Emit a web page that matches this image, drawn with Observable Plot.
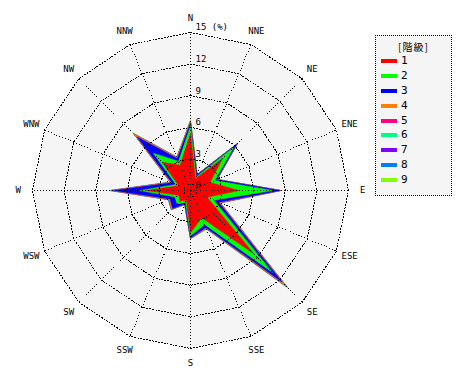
<!DOCTYPE html>
<html>
<head>
<meta charset="utf-8">
<script src="https://cdn.jsdelivr.net/npm/d3@7"></script>
<script src="https://cdn.jsdelivr.net/npm/@observablehq/plot@0.6"></script>
<style>
  body { margin: 0; background: #ffffff; }
  #wrap { position: relative; width: 470px; height: 380px; font-family: "DejaVu Sans Mono", monospace; }
  #legend { position: absolute; left: 375px; top: 35px; width: 75px; height: 159px;
            border: 1px dotted #000; background: #f5f5f5; font-size: 10px; }
  #legend .ttl { text-align: center; margin-top: 3px; height: 15px; font-family: "Noto Sans CJK JP", sans-serif; font-size: 10px; letter-spacing: 1px; }
  #legend .row { position: relative; height: 14.9px; }
  #legend .sw { position: absolute; left: 5px; top: 5px; width: 16px; height: 4px; }
  #legend .lb { position: absolute; left: 25px; top: 0px; font-size: 11px; line-height: 14px; }
</style>
</head>
<body>
<div id="wrap"></div>
<script>
const dirs = ["N","NNE","NE","ENE","E","ESE","SE","SSE","S","SSW","SW","WSW","W","WNW","NW","NNW"];
// frequency (%) per class, per direction
const c1 = [5.4,1.2,4.3,2.0,4.6,1.7,8.5,2.8,4.0,1.0,1.4,1.2,4.2,1.2,3.8,2.6];
const c2 = [0.7,0.2,1.5,0.5,3.2,0.7,2.5,0.7,0.3,0.2,0.4,0.4,0.6,0.3,1.2,0.4];
const c3 = [0.3,0.2,0.4,0.2,0.7,0.5,1.3,0.3,0.2,0.2,0.6,0.5,2.5,0.4,2.2,0.3];
const c4 = [0.1,0.03,0.05,0.03,0.05,0.1,0.5,0.05,0.03,0.03,0.1,0.1,0.2,0.1,0.3,0.1];
const c5 = [0.02,0,0.02,0,0.01,0.02,0.05,0.02,0.01,0,0.02,0.02,0.05,0.02,0.05,0.01];
const c6 = [0.02,0,0.02,0,0.01,0.02,0.05,0.02,0.01,0,0.02,0.02,0.05,0.02,0.05,0.01];
const c7 = [0.02,0,0.01,0,0.01,0.02,0.05,0.02,0.01,0,0.02,0.02,0.03,0.02,0.03,0.01];
const c8 = [0.02,0,0.01,0,0.01,0.02,0.05,0.02,0.01,0,0.02,0.02,0.02,0.02,0.02,0.01];
const c9 = [0.12,0.07,0.09,0.07,0.01,0.02,0.2,0.07,0.03,0.07,0.02,0.02,0.05,0.02,0.15,0.06];

const classLabels = ["1","2","3","4","5","6","7","8","9"];
const classColors = ["#ff0000","#00ff00","#0000ff","#ff8000","#ff0080","#00ff80","#8000ff","#0080ff","#80ff00"];
const ringValues = [3,6,9,12,15];
const tickValues = [0,3,6,9,12,15];
const tickLabels = ["0","3","6","9","12","15 (%)"];
const maxR = 15;
const labelR = 16.35;

const series = [c1,c2,c3,c4,c5,c6,c7,c8,c9];
const ang = i => i * Math.PI / 8;
const px = (r, i) => r * Math.sin(ang(i));
const py = (r, i) => r * Math.cos(ang(i));

// cumulative polygons
const cum = dirs.map(() => 0);
const polys = series.map((s, k) => {
  s.forEach((v, i) => cum[i] += v);
  return dirs.map((d, i) => ({cls: classLabels[k], x: px(cum[i], i), y: py(cum[i], i)}));
});

const outline = dirs.map((d, i) => ({x: px(maxR, i), y: py(maxR, i)}));
const rings = ringValues.flatMap(r => dirs.map((d, i) => ({r, x: px(r, i), y: py(r, i)})));

const fillMarks = polys.map((p, k) => Plot.line(p, {
  x: "x", y: "y", curve: "linear-closed",
  fill: classColors[k], stroke: classColors[k], strokeWidth: 0.5
})).reverse();

const chart = Plot.plot({
  width: 470, height: 380,
  marginLeft: 32, marginRight: 122, marginTop: 32, marginBottom: 32,
  x: {domain: [-maxR, maxR], axis: null},
  y: {domain: [-maxR, maxR], axis: null},
  style: {fontFamily: "DejaVu Sans Mono, monospace", fontSize: "9px", background: "#ffffff", overflow: "visible"},
  marks: [
    Plot.line(outline, {x: "x", y: "y", curve: "linear-closed", fill: "#f5f5f5", stroke: null}),
    ...fillMarks,
    Plot.line(rings, {x: "x", y: "y", z: "r", curve: "linear-closed", fill: "none",
      stroke: "#000", strokeWidth: 1, strokeDasharray: "1,2", shapeRendering: "crispEdges"}),
    Plot.link(dirs, {x1: () => 0, y1: () => 0,
      x2: (d, i) => px(maxR, i), y2: (d, i) => py(maxR, i),
      stroke: "#000", strokeWidth: 1, strokeDasharray: "1,2", shapeRendering: "crispEdges"}),
    Plot.text(dirs, {x: (d, i) => px(labelR, i), y: (d, i) => py(labelR, i), text: d => d,
      fill: "#000", fontSize: 9}),
    Plot.text(tickValues, {x: () => 0, y: d => d, text: (d, i) => tickLabels[i],
      textAnchor: "start", dx: 5, dy: -5, fill: "#000", fontSize: 9})
  ]
});

const wrap = document.getElementById("wrap");
wrap.appendChild(chart);

const lg = document.createElement("div");
lg.id = "legend";
const ttl = document.createElement("div");
ttl.className = "ttl";
ttl.textContent = "[階級]";
lg.appendChild(ttl);
classLabels.forEach((c, k) => {
  const row = document.createElement("div");
  row.className = "row";
  const sw = document.createElement("div");
  sw.className = "sw";
  sw.style.background = classColors[k];
  const lb = document.createElement("div");
  lb.className = "lb";
  lb.textContent = c;
  row.appendChild(sw); row.appendChild(lb);
  lg.appendChild(row);
});
wrap.appendChild(lg);
</script>
</body>
</html>
